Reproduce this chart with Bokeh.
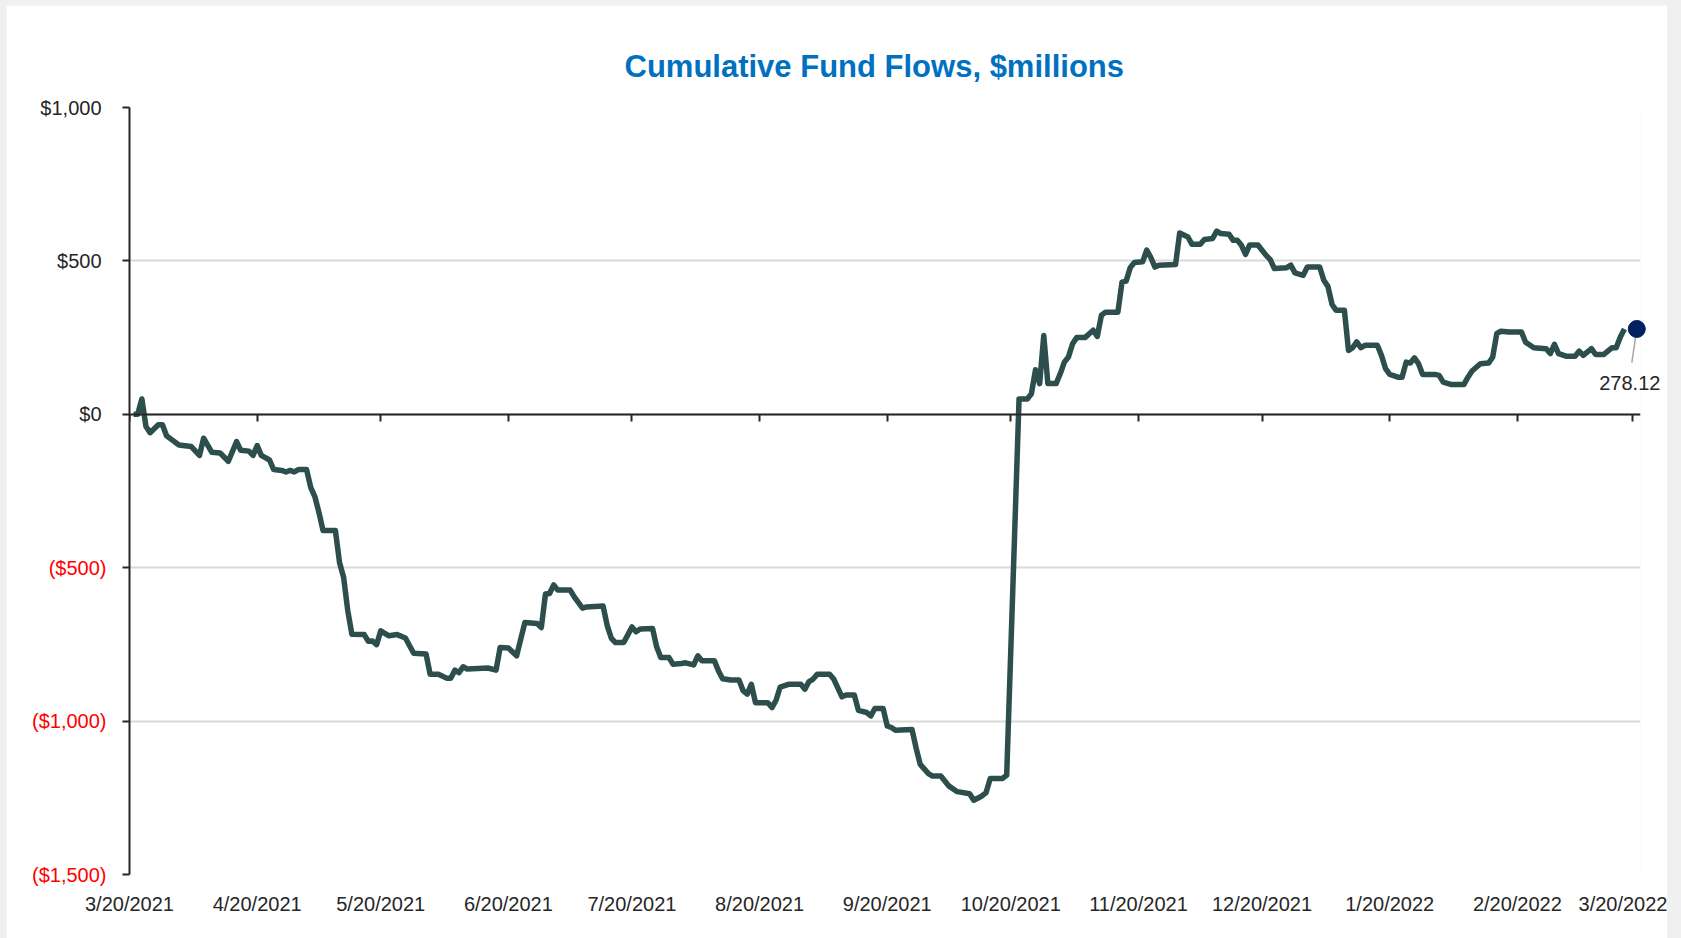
import pandas as pd
from bokeh.plotting import figure
from bokeh.models import (Range1d, DatetimeAxis, LinearAxis, FixedTicker, Grid,
                          ColumnDataSource, Title)
from bokeh.layouts import column
from bokeh.embed import file_html
from bokeh.resources import INLINE
from bokeh.core.properties import value

# ---------------- data ----------------
start_date = "2021-03-20"

day_offset = [1, 2, 3, 4, 5, 7, 8, 9, 10, 12, 15, 17, 18, 20, 22, 24, 26, 27, 29, 30,
              31, 32, 34, 35, 37, 38, 39, 40, 41, 43, 44, 45, 46, 47, 50, 51, 52, 53, 54, 57,
              58, 59, 60, 61, 63, 65, 67, 69, 72, 73, 75, 77, 78, 79, 80, 81, 82, 87, 89, 90,
              92, 94, 96, 99, 100, 101, 102, 103, 104, 107, 108, 110, 111, 115, 116, 117, 118, 120, 121, 122,
              123, 124, 127, 128, 129, 131, 132, 134, 135, 137, 138, 139, 142, 143, 144, 146, 148, 149, 150, 151,
              152, 155, 156, 157, 158, 160, 163, 164, 165, 166, 167, 170, 171, 173, 174, 176, 177, 179, 180, 181,
              183, 184, 185, 186, 190, 191, 192, 194, 195, 197, 199, 201, 204, 205, 207, 208, 209, 212, 213, 216,
              218, 219, 220, 221, 222, 223, 225, 226, 227, 228, 229, 230, 232, 234, 235, 236, 237, 240, 241, 242,
              243, 244, 246, 247, 248, 249, 250, 254, 255, 257, 258, 260, 261, 263, 264, 265, 267, 268, 269, 270,
              271, 272, 274, 276, 277, 278, 281, 282, 283, 285, 286, 289, 290, 291, 292, 293, 295, 296, 297, 298,
              299, 300, 303, 304, 305, 306, 308, 309, 310, 311, 312, 313, 314, 317, 318, 319, 321, 324, 325, 326,
              328, 330, 331, 332, 333, 335, 338, 339, 341, 344, 345, 346, 347, 349, 351, 352, 353, 355, 356, 358,
              360, 361, 362, 363]

flows = [0, 0, 50, -40, -60, -34, -34, -70, -80, -100, -105, -134, -78, -124, -126, -153, -89, -117, -120, -134,
         -102, -134, -149, -180, -183, -188, -183, -188, -180, -180, -238, -268, -320, -379, -379, -483, -532, -640, -717, -718,
         -740, -739, -751, -706, -722, -718, -729, -779, -781, -847, -847, -860, -860, -834, -842, -823, -830, -827, -834, -760,
         -762, -787, -679, -682, -695, -586, -584, -556, -573, -573, -595, -632, -628, -625, -689, -730, -744, -744, -719, -693,
         -709, -700, -698, -758, -793, -793, -815, -812, -810, -817, -787, -803, -803, -836, -862, -866, -866, -901, -912, -880,
         -940, -940, -956, -932, -889, -880, -880, -896, -871, -863, -847, -847, -863, -921, -915, -915, -965, -972, -983, -959,
         -959, -1016, -1021, -1030, -1027, -1087, -1141, -1171, -1179, -1179, -1212, -1230, -1237, -1258, -1244, -1233, -1187, -1187, -1176, 50,
         50, 67, 145, 100, 257, 100, 100, 132, 170, 187, 230, 250, 250, 274, 254, 323, 333, 333, 431, 434,
         478, 495, 497, 535, 511, 480, 486, 488, 591, 578, 554, 554, 570, 573, 597, 589, 587, 567, 567, 551,
         521, 552, 552, 518, 504, 475, 478, 486, 461, 453, 480, 480, 437, 417, 358, 339, 339, 208, 217, 236,
         217, 225, 225, 192, 149, 130, 121, 121, 170, 167, 184, 165, 130, 130, 127, 105, 97, 97, 121, 141,
         165, 167, 186, 263, 271, 268, 268, 235, 217, 214, 198, 228, 198, 189, 189, 206, 192, 214, 195, 195,
         217, 217, 252, 278.12]

x_tick_labels = ["3/20/2021", "4/20/2021", "5/20/2021", "6/20/2021", "7/20/2021", "8/20/2021",
                 "9/20/2021", "10/20/2021", "11/20/2021", "12/20/2021", "1/20/2022", "2/20/2022",
                 "3/20/2022"]
y_ticks = [-1500, -1000, -500, 0, 500, 1000]
y_tick_labels = ["($1,500)", "($1,000)", "($500)", "$0", "$500", "$1,000"]

last_label_date = "2022-03-21"
last_value = 278.12

title_text = "Cumulative Fund Flows, $millions"

assert len(day_offset) == len(flows)

# ---------------- derived ----------------
FONT = "Liberation Sans"
DARK = "#262626"
start = pd.Timestamp(start_date)
dates = start + pd.to_timedelta(day_offset, unit="D")
tick_dates = pd.to_datetime(x_tick_labels, format="%m/%d/%Y")
tick_ms = [int(t.value // 10**6) for t in tick_dates]
marker_dt = pd.Timestamp(last_label_date)

p = figure(width=1661, height=933, output_backend="svg", toolbar_location=None,
           x_axis_type=None, y_axis_type=None,
           x_range=Range1d(start, start + pd.Timedelta(days=366.9)),
           y_range=Range1d(-1500, 1000),
           min_border_left=123, min_border_right=27, min_border_top=102, min_border_bottom=64,
           margin=(5, 14, 0, 6), background_fill_color="white", border_fill_color="white")
p.outline_line_color = None

p.title = Title(text=title_text, align="left", text_font=FONT, text_font_size="31px",
                text_font_style="bold", text_color="#0070C0", standoff=47, offset=495)

# horizontal gridlines
p.add_layout(Grid(dimension=1, ticker=FixedTicker(ticks=y_ticks),
                  grid_line_color="#d9d9d9", grid_line_width=2))

# y axis (line + ticks); labels drawn as text so negatives can be red
yaxis = LinearAxis(ticker=FixedTicker(ticks=y_ticks), axis_line_color=DARK, axis_line_width=2,
                   major_tick_line_color=DARK, major_tick_line_width=2,
                   major_tick_out=7, major_tick_in=0, minor_tick_line_color=None,
                   major_label_overrides={t: "" for t in y_ticks}, major_label_standoff=0)
p.add_layout(yaxis, "left")

# x axis labels at bottom
xlab = DatetimeAxis(ticker=FixedTicker(ticks=tick_ms), axis_line_color=None,
                    major_tick_line_color=None, minor_tick_line_color=None,
                    major_tick_out=0, major_tick_in=0,
                    major_label_overrides=dict(zip(tick_ms, x_tick_labels)),
                    major_label_text_font=FONT, major_label_text_font_size="20px",
                    major_label_text_color=DARK, major_label_standoff=18)
p.add_layout(xlab, "below")

# x axis line + ticks crossing at zero
zero_axis = DatetimeAxis(ticker=FixedTicker(ticks=tick_ms), fixed_location=0,
                         axis_line_color=DARK, axis_line_width=2,
                         major_tick_line_color=DARK, major_tick_line_width=2,
                         major_tick_out=7, major_tick_in=0, minor_tick_line_color=None,
                         major_label_overrides={t: "" for t in tick_ms}, major_label_standoff=0)
p.add_layout(zero_axis, "below")

# y tick labels
ysrc = ColumnDataSource(dict(
    x=[start] * len(y_ticks), y=y_ticks, text=y_tick_labels,
    color=["#FF0000" if v < 0 else DARK for v in y_ticks],
    xoff=[-23 if v < 0 else -28 for v in y_ticks]))
ylab = p.text(x="x", y="y", text="text", source=ysrc, x_offset="xoff",
              text_align="right", text_baseline="middle",
              text_font=value(FONT), text_font_size="20px", text_color="color")
ylab.level = "overlay"

# the series
p.line(dates, flows, line_color="#2c4e4c", line_width=5.5, line_join="round")

# last value callout
ray = p.ray(x=[marker_dt], y=[last_value], length=34, length_units="screen",
            angle=261.6, angle_units="deg", line_color="#a6a6a6", line_width=1.5)
ray.level = "overlay"
dot = p.scatter(x=[marker_dt], y=[last_value], size=17, fill_color="#002060", line_color="#002060")
dot.level = "overlay"
last_lbl = p.text(x=[marker_dt], y=[last_value], text=[f"{last_value:.2f}"], x_offset=-7, y_offset=54,
                  text_align="center", text_baseline="middle", text_font=value(FONT),
                  text_font_size="20px", text_color=DARK)
last_lbl.level = "overlay"

layout = column(p, width=1681, height=938, styles={"background-color": "#f0f0f0"})
open("out.html", "w").write(file_html(layout, INLINE))
